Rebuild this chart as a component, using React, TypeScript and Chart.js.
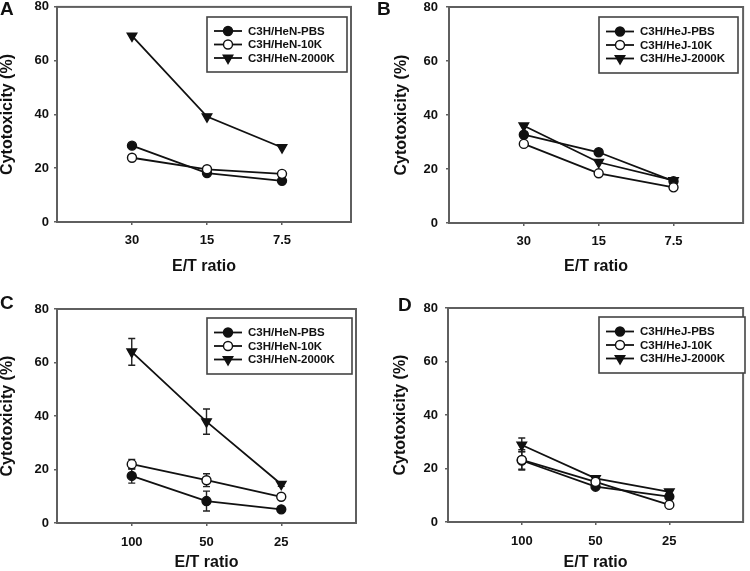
import React, { useEffect, useRef } from 'react';
import { Chart, registerables } from 'chart.js';

Chart.register(...registerables);

const FONT = '"Liberation Sans", Arial, Helvetica, sans-serif';
const INK = '#111111';
const FRAME = '#5f5f5f';

// ---- data ----
const ratioLabelsAB = ['30', '15', '7.5'];
const ratioLabelsCD = ['100', '50', '25'];
const heNNames = ['C3H/HeN-PBS', 'C3H/HeN-10K', 'C3H/HeN-2000K'];
const heJNames = ['C3H/HeJ-PBS', 'C3H/HeJ-10K', 'C3H/HeJ-2000K'];
const yTickStep = 20;
const yMaxValue = 80;

const aPBS = [28.4, 18.2, 15.3];
const a10K = [23.9, 19.6, 17.9];
const a2000K = [69.2, 39.2, 27.7];

const bPBS = [32.7, 26.2, 15.5];
const b10K = [29.3, 18.4, 13.2];
const b2000K = [36.0, 22.5, 15.8];

const cPBS = [17.6, 8.2, 5.1];
const c10K = [22.0, 16.0, 9.8];
const c2000K = [64.0, 37.9, 14.5];
const cPBSErr = [2.7, 3.7, 0.8];
const c10KErr = [1.8, 2.4, 0.6];
const c2000KErr = [5.0, 4.7, 0.8];

const dPBS = [23.0, 13.2, 9.5];
const d10K = [23.2, 15.0, 6.4];
const d2000K = [28.8, 16.3, 11.3];
const dPBSErr = [3.3, 1.0, 1.0];
const d10KErr = [3.8, 1.0, 0.8];
const d2000KErr = [2.6, 1.0, 0.8];

type Panel = {
  letter: string;
  pos: [number, number];
  w: number;
  h: number;
  area: { l: number; t: number; r: number; b: number };
  xMax: number;
  labels: string[];
  names: string[];
  series: number[][];
  errors: number[][] | null;
  letterPos: [number, number];
  yTitlePad: number;
  yTickPad: number;
  xTickPad: number;
  xTitlePad: number;
  legendBox: [number, number, number, number];
};

const panels: Panel[] = [
  {
    letter: 'A', pos: [0, 0], w: 375, h: 285,
    area: { l: 57, t: 6, r: 351, b: 222 }, xMax: 3.92,
    labels: ratioLabelsAB, names: heNNames, series: [aPBS, a10K, a2000K], errors: null,
    letterPos: [0, 0], yTitlePad: 0, yTickPad: 5, xTickPad: 7.2, xTitlePad: 10,
    legendBox: [207, 17, 140, 55],
  },
  {
    letter: 'B', pos: [375, 0], w: 375, h: 285,
    area: { l: 74, t: 7, r: 369, b: 223 }, xMax: 3.93,
    labels: ratioLabelsAB, names: heJNames, series: [bPBS, b10K, b2000K], errors: null,
    letterPos: [2, 0], yTitlePad: 19, yTickPad: 8, xTickPad: 7.2, xTitlePad: 10,
    legendBox: [224, 17, 139, 56],
  },
  {
    letter: 'C', pos: [0, 285], w: 375, h: 286,
    area: { l: 57, t: 24, r: 356, b: 238 }, xMax: 4.0,
    labels: ratioLabelsCD, names: heNNames, series: [cPBS, c10K, c2000K],
    errors: [cPBSErr, c10KErr, c2000KErr],
    letterPos: [0, 9.5], yTitlePad: 0, yTickPad: 5, xTickPad: 8.2, xTitlePad: 0,
    legendBox: [207, 33, 145, 56],
  },
  {
    letter: 'D', pos: [375, 285], w: 375, h: 286,
    area: { l: 73, t: 23, r: 372, b: 237 }, xMax: 4.0,
    labels: ratioLabelsCD, names: heJNames, series: [dPBS, d10K, d2000K],
    errors: [dPBSErr, d10KErr, d2000KErr],
    letterPos: [23, 11.5], yTitlePad: 18, yTickPad: 7, xTickPad: 8.9, xTitlePad: 0,
    legendBox: [224, 32, 146, 56],
  },
];

const markerStyles = [
  { fill: INK, style: 'circle', radius: 4.5, rot: 0, order: 1 },
  { fill: '#ffffff', style: 'circle', radius: 4.5, rot: 0, order: 0 },
  { fill: INK, style: 'triangle', radius: 5.5, rot: 180, order: 2 },
];

function drawMarker(ctx: CanvasRenderingContext2D, si: number, cx: number, cy: number) {
  const m = markerStyles[si];
  ctx.beginPath();
  if (m.style === 'circle') {
    ctx.arc(cx, cy, m.radius, 0, Math.PI * 2);
  } else {
    const r = m.radius;
    const s = Math.sin(Math.PI / 3) * r;
    ctx.moveTo(cx, cy + r);
    ctx.lineTo(cx - s, cy - r / 2);
    ctx.lineTo(cx + s, cy - r / 2);
    ctx.closePath();
  }
  ctx.fillStyle = m.fill;
  ctx.fill();
  ctx.lineWidth = 1.4;
  ctx.strokeStyle = INK;
  ctx.stroke();
}

function makeChart(canvas: HTMLCanvasElement, p: Panel) {
  const datasets = p.series.map((vals, si) => ({
    label: p.names[si],
    data: vals.map((v, i) => ({ x: i + 1, y: v })),
    borderColor: INK,
    borderWidth: 1.8,
    backgroundColor: markerStyles[si].fill,
    pointStyle: markerStyles[si].style,
    pointRadius: markerStyles[si].radius,
    pointRotation: markerStyles[si].rot,
    pointBackgroundColor: markerStyles[si].fill,
    pointBorderColor: INK,
    pointBorderWidth: 1.4,
    order: markerStyles[si].order,
    tension: 0,
    fill: false,
  }));

  const decor = {
    id: 'decor' + p.letter,
    beforeDatasetsDraw(chart: any) {
      const { ctx, chartArea: a } = chart;
      ctx.save();
      ctx.strokeStyle = FRAME;
      ctx.lineWidth = 2;
      ctx.strokeRect(a.left, a.top, a.right - a.left, a.bottom - a.top);
      if (p.errors) {
        const xs = chart.scales.x;
        const ys = chart.scales.y;
        ctx.strokeStyle = '#222';
        ctx.lineWidth = 1.4;
        p.errors.forEach((errs, si) => {
          errs.forEach((e, i) => {
            const v = p.series[si][i];
            const px = xs.getPixelForValue(i + 1);
            const yt = ys.getPixelForValue(v + e);
            const yb = ys.getPixelForValue(Math.max(0, v - e));
            ctx.beginPath();
            ctx.moveTo(px, yt);
            ctx.lineTo(px, yb);
            ctx.moveTo(px - 3.5, yt);
            ctx.lineTo(px + 3.5, yt);
            ctx.moveTo(px - 3.5, yb);
            ctx.lineTo(px + 3.5, yb);
            ctx.stroke();
          });
        });
      }
      ctx.restore();
    },
    afterDatasetsDraw(chart: any) {
      const { ctx } = chart;
      ctx.save();
      const [bx, by, bw, bh] = p.legendBox;
      ctx.fillStyle = '#ffffff';
      ctx.fillRect(bx, by, bw, bh);
      ctx.strokeStyle = '#444';
      ctx.lineWidth = 1.6;
      ctx.strokeRect(bx, by, bw, bh);
      p.names.forEach((name, si) => {
        const ry = by + bh / 2 + (si - 1) * 13.5;
        ctx.strokeStyle = INK;
        ctx.lineWidth = 1.8;
        ctx.beginPath();
        ctx.moveTo(bx + 7, ry);
        ctx.lineTo(bx + 35, ry);
        ctx.stroke();
        drawMarker(ctx, si, bx + 21, ry);
        ctx.fillStyle = INK;
        ctx.font = `bold 11.5px ${FONT}`;
        ctx.textBaseline = 'middle';
        ctx.textAlign = 'left';
        ctx.fillText(name, bx + 41, ry + 0.5);
      });
      ctx.font = `bold 19px ${FONT}`;
      ctx.textBaseline = 'top';
      ctx.fillStyle = INK;
      ctx.fillText(p.letter, p.letterPos[0], p.letterPos[1]);
      ctx.restore();
    },
  };

  const tickFont = { family: FONT, size: 13, weight: 'bold' as const };
  const titleFont = { family: FONT, size: 16, weight: 'bold' as const, lineHeight: 1 };

  return new Chart(canvas, {
    type: 'line',
    data: { datasets: datasets as any },
    plugins: [decor],
    options: {
      animation: false,
      responsive: false,
      events: [],
      layout: { padding: { left: 0, top: p.area.t, right: p.w - p.area.r, bottom: 0 } },
      plugins: { legend: { display: false }, tooltip: { enabled: false }, title: { display: false } },
      scales: {
        x: {
          type: 'linear',
          min: 0,
          max: p.xMax,
          afterBuildTicks: (s: any) => {
            s.ticks = p.labels.map((_, i) => ({ value: i + 1 }));
          },
          afterFit: (s: any) => {
            s.height = p.h - p.area.b;
            s.paddingLeft = 0;
            s.paddingRight = 0;
            s.paddingTop = 0;
            s.paddingBottom = 0;
          },
          grid: { display: true, drawOnChartArea: false, drawTicks: true, tickLength: 3, color: FRAME, lineWidth: 1.5 },
          border: { display: false },
          ticks: {
            callback: (v: any) => p.labels[Math.round(Number(v)) - 1] ?? '',
            font: tickFont,
            color: INK,
            padding: p.xTickPad,
            maxRotation: 0,
            autoSkip: false,
          },
          title: { display: true, text: 'E/T ratio', font: titleFont, color: INK, padding: { top: 0, bottom: p.xTitlePad } },
        },
        y: {
          type: 'linear',
          min: 0,
          max: yMaxValue,
          afterFit: (s: any) => {
            s.width = p.area.l;
            s.paddingTop = 0;
            s.paddingBottom = 0;
            s.paddingLeft = 0;
            s.paddingRight = 0;
          },
          grid: { display: true, drawOnChartArea: false, drawTicks: true, tickLength: 3, color: FRAME, lineWidth: 1.5 },
          border: { display: false },
          ticks: { stepSize: yTickStep, font: tickFont, color: INK, padding: p.yTickPad },
          title: { display: true, text: 'Cytotoxicity (%)', font: titleFont, color: INK, padding: { top: p.yTitlePad, bottom: 0 } },
        },
      },
    } as any,
  });
}

function PanelChart({ p }: { p: Panel }) {
  const ref = useRef<HTMLCanvasElement | null>(null);
  useEffect(() => {
    if (!ref.current) return;
    const chart = makeChart(ref.current, p);
    return () => chart.destroy();
  }, [p]);
  return (
    <canvas
      ref={ref}
      width={p.w}
      height={p.h}
      style={{ position: 'absolute', left: p.pos[0], top: p.pos[1], width: p.w, height: p.h }}
    />
  );
}

export default function App() {
  return (
    <div style={{ position: 'fixed', left: 0, top: 0, width: 750, height: 571, background: '#ffffff', overflow: 'hidden' }}>
      {panels.map((p) => (
        <PanelChart key={p.letter} p={p} />
      ))}
    </div>
  );
}
